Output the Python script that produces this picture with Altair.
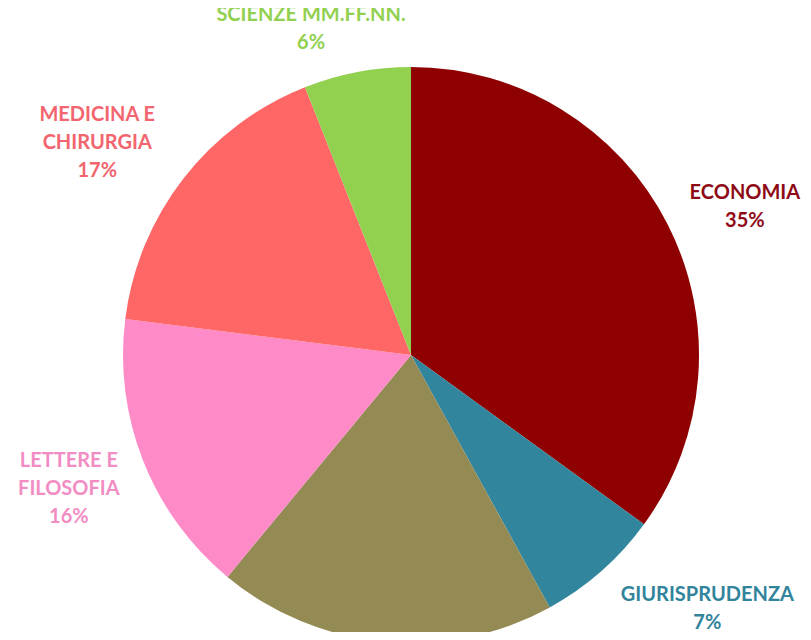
import altair as alt
import pandas as pd

categories = ["ECONOMIA", "GIURISPRUDENZA", "INGEGNERIA", "LETTERE E\nFILOSOFIA",
              "MEDICINA E\nCHIRURGIA", "SCIENZE MM.FF.NN."]
percent = [35, 7, 19, 16, 17, 6]
slice_colors = ["#8F0000", "#31859C", "#948A54", "#FF8AC8", "#FF6666", "#92D050"]
label_colors = ["#8E0B16", "#31849B", "#948A54", "#F28DC4", "#F2656E", "#92D050"]

df = pd.DataFrame({
    "cat": categories,
    "pct": percent,
    "ord": list(range(len(categories))),
    "label": [f"{c}\n{p}%" for c, p in zip(categories, percent)],
})

CX, CY = 403, 347
R_PIE = 288
R_LAB = 368

pie = alt.Chart(df).mark_arc(radius=R_PIE, strokeWidth=0).encode(
    theta=alt.Theta("pct:Q", stack=True, scale=alt.Scale(domain=[0, 100])),
    order=alt.Order("ord:Q"),
    color=alt.Color("cat:N", scale=alt.Scale(domain=categories, range=slice_colors), legend=None),
    x=alt.value(CX), y=alt.value(CY),
)

# label offsets (style tweaks per label); the olive slice's label lies outside the visible frame
offsets = {0: (6, 5), 1: (53, -36), 3: (0, -29), 4: (-23, -14), 5: (-31, 21)}

layers = [pie]
for i, (ddx, ddy) in offsets.items():
    t = alt.Chart(df).transform_window(
        cum="sum(pct)", sort=[alt.SortField("ord")], frame=[None, 0]
    ).transform_calculate(
        mid="datum.cum - datum.pct / 2"
    ).transform_filter(
        alt.datum.ord == i
    ).mark_text(
        radius=R_LAB, dx=ddx, dy=ddy, lineBreak="\n", lineHeight=28,
        font="Lato", fontWeight="bold", fontSize=20, align="center", baseline="middle",
        color=label_colors[i],
    ).encode(
        theta=alt.Theta("mid:Q", stack=None, scale=alt.Scale(domain=[0, 100])),
        text="label:N",
        x=alt.value(CX), y=alt.value(CY),
    )
    layers.append(t)

chart = alt.layer(*layers).resolve_scale(theta="shared").properties(
    width=795, height=624, autosize=alt.AutoSizeParams(type="none"), padding=0,
    background="white",
).configure_view(stroke=None)

chart.save("out.html", embed_options={"renderer": "svg", "actions": False})
